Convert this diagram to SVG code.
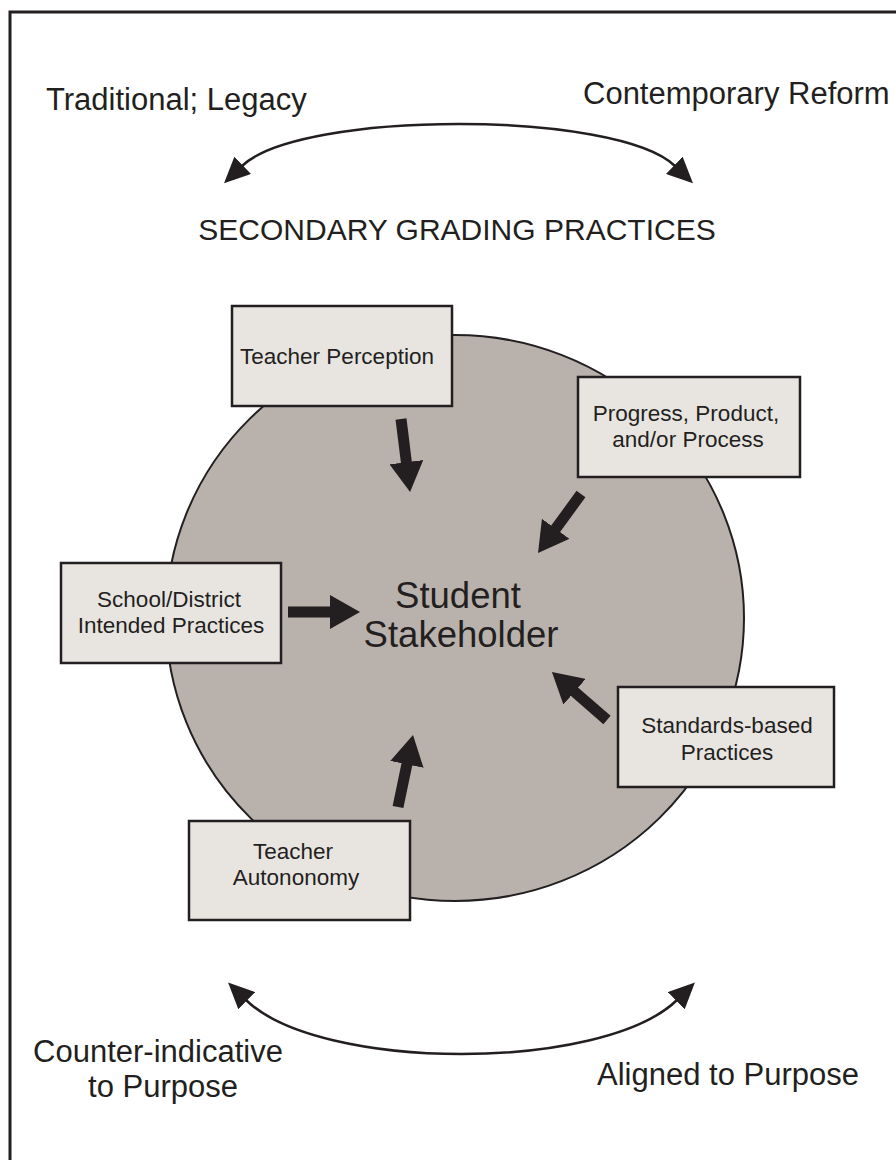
<svg xmlns="http://www.w3.org/2000/svg" width="896" height="1160" viewBox="0 0 896 1160">
  <style>
    text { font-family: "Liberation Sans", Arial, sans-serif; fill: #231f20; }
    .label { font-size: 31px; }
    .title { font-size: 30px; }
    .boxtext { font-size: 22.5px; text-anchor: middle; }
    .center { font-size: 36.5px; text-anchor: middle; }
    .box { fill: #e8e5e1; stroke: #231f20; stroke-width: 2.5; }
    .flow { stroke: #231f20; stroke-width: 11; fill: none; marker-end: url(#bigHead); }
    .swing { stroke: #231f20; stroke-width: 2.5; fill: none; marker-start: url(#thinHead); marker-end: url(#thinHead); }
  </style>
  <defs>
    <marker id="bigHead" markerUnits="userSpaceOnUse" viewBox="0 0 30 34" markerWidth="30" markerHeight="34" refX="1" refY="17" orient="auto">
      <path d="M0,0 L30,17 L0,34 Z" fill="#231f20"/>
    </marker>
    <marker id="thinHead" markerUnits="userSpaceOnUse" viewBox="0 0 26 24" markerWidth="26" markerHeight="24" refX="1" refY="12" orient="auto-start-reverse">
      <path d="M0,0 L26,12 L0,24 Z" fill="#231f20"/>
    </marker>
  </defs>

  <rect width="896" height="1160" fill="#ffffff"/>
  <!-- outer frame (open to the right and bottom) -->
  <path d="M10,1160 V12 H896" fill="none" stroke="#231f20" stroke-width="3"/>

  <!-- axis labels -->
  <g id="top-labels">
    <text class="label" x="46" y="110">Traditional; Legacy</text>
    <text class="label" x="583" y="104">Contemporary Reform</text>
    <text class="title" x="457" y="240" text-anchor="middle">SECONDARY GRADING PRACTICES</text>
  </g>
  <g id="bottom-labels">
    <text class="label" x="158" y="1062" text-anchor="middle">Counter-indicative</text>
    <text class="label" x="163" y="1097" text-anchor="middle">to Purpose</text>
    <text class="label" x="728" y="1085" text-anchor="middle">Aligned to Purpose</text>
  </g>

  <!-- central stakeholder -->
  <g id="student-stakeholder">
    <ellipse cx="455" cy="618" rx="289" ry="283" fill="#b9b2ac" stroke="#231f20" stroke-width="2"/>
    <text class="center" x="458" y="608">Student</text>
    <text class="center" x="461" y="647">Stakeholder</text>
  </g>

  <!-- connectors -->
  <g id="connectors">
    <path class="swing" d="M242,166 C300,110 617,110 675,166"/>
    <path class="swing" d="M246,1000 C320,1072 603,1072 677,1000"/>
    <line class="flow" x1="401" y1="419" x2="406.5" y2="463.2"/>
    <line class="flow" x1="581" y1="494" x2="555.1" y2="529.6"/>
    <line class="flow" x1="288" y1="612" x2="331" y2="612"/>
    <line class="flow" x1="607" y1="720" x2="573.8" y2="691.1"/>
    <line class="flow" x1="398" y1="807" x2="407.1" y2="763.4"/>
  </g>

  <!-- influence nodes -->
  <g id="teacher-perception">
    <rect class="box" x="232" y="306" width="220" height="100"/>
    <text class="boxtext" x="337" y="364">Teacher Perception</text>
  </g>
  <g id="progress-product-process">
    <rect class="box" x="578" y="377" width="222" height="100"/>
    <text class="boxtext" x="686" y="421">Progress, Product,</text>
    <text class="boxtext" x="688" y="447">and/or Process</text>
  </g>
  <g id="school-district">
    <rect class="box" x="61" y="563" width="220" height="100"/>
    <text class="boxtext" x="169" y="607">School/District</text>
    <text class="boxtext" x="171" y="633">Intended Practices</text>
  </g>
  <g id="standards-based">
    <rect class="box" x="618" y="687" width="216" height="100"/>
    <text class="boxtext" x="727" y="733">Standards-based</text>
    <text class="boxtext" x="727" y="760">Practices</text>
  </g>
  <g id="teacher-autonomy">
    <rect class="box" x="189" y="821" width="221" height="99"/>
    <text class="boxtext" x="293" y="859">Teacher</text>
    <text class="boxtext" x="296" y="885">Autononomy</text>
  </g>
</svg>
